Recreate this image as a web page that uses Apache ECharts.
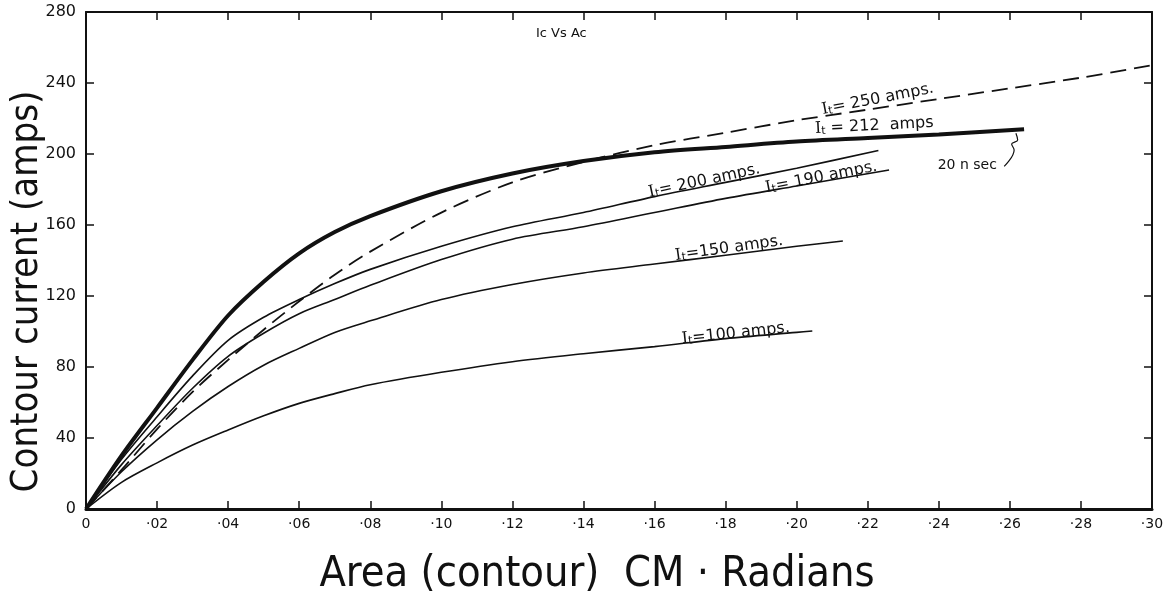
<!DOCTYPE html>
<html>
<head>
<meta charset="utf-8">
<script src="https://cdn.jsdelivr.net/npm/echarts@6/dist/echarts.min.js"></script>
<style>
html, body { margin: 0; padding: 0; background: #fff; }
#main { width: 1174px; height: 594px; }
</style>
</head>
<body>
<div id="main"></div>
<script>
// x ticks (area) and curve data [area, current]
const xTicks = [0, 0.02, 0.04, 0.06, 0.08, 0.10, 0.12, 0.14, 0.16, 0.18, 0.20, 0.22, 0.24, 0.26, 0.28, 0.30];
const yTicks = [0, 40, 80, 120, 160, 200, 240, 280];

const curve212 = [[0, 0], [0.01, 30], [0.02, 57], [0.03, 84], [0.04, 109], [0.05, 128], [0.06, 144], [0.07, 156], [0.08, 165], [0.10, 179], [0.12, 189], [0.14, 196], [0.16, 201], [0.18, 204], [0.20, 207], [0.22, 209], [0.24, 211], [0.264, 214]];
const curve250 = [[0, 0], [0.01, 22], [0.02, 45], [0.03, 66], [0.04, 84], [0.05, 101], [0.06, 117], [0.07, 132], [0.08, 145], [0.10, 167], [0.12, 184], [0.14, 195.5], [0.16, 205], [0.18, 212], [0.20, 219], [0.22, 225], [0.24, 231], [0.26, 237], [0.28, 243], [0.30, 250]];
const curve200 = [[0, 0], [0.01, 28], [0.02, 52], [0.03, 75], [0.04, 95], [0.05, 108], [0.06, 118], [0.07, 127], [0.08, 135], [0.10, 148], [0.12, 159], [0.14, 167], [0.16, 176], [0.18, 184], [0.20, 192], [0.223, 202]];
const curve190 = [[0, 0], [0.01, 25], [0.02, 47], [0.03, 68], [0.04, 86], [0.05, 99], [0.06, 110], [0.07, 118], [0.08, 126], [0.10, 140.5], [0.12, 152], [0.14, 159], [0.16, 167], [0.18, 175], [0.20, 182], [0.226, 191]];
const curve150 = [[0, 0], [0.01, 21], [0.02, 39], [0.03, 55], [0.04, 69], [0.05, 81], [0.06, 90.5], [0.07, 99.5], [0.08, 106], [0.10, 118], [0.12, 126.5], [0.14, 133], [0.16, 138], [0.18, 143], [0.20, 148], [0.213, 151]];
const curve100 = [[0, 0], [0.01, 15], [0.02, 26], [0.03, 36], [0.04, 44.5], [0.05, 52.5], [0.06, 59.5], [0.07, 65], [0.08, 70], [0.10, 77], [0.12, 83], [0.14, 87.5], [0.16, 91.5], [0.18, 96], [0.20, 99.5], [0.2044, 100.3]];
const leader = [[0.2617, 211.7], [0.2622, 207.9], [0.2605, 205.6], [0.2612, 202.3], [0.2584, 193]];

// curve labels: [text after "It", x, y, rotation]
const labels250 = ['= 250 amps.', 0.2227, 232, 11];
const labels212 = [' = 212  amps', 0.2218, 217, 3];
const labels200 = ['= 200 amps.', 0.1739, 186, 12];
const labels190 = ['= 190 amps.', 0.2068, 188, 11];
const labels150 = ['=150 amps.', 0.1809, 148, 8];
const labels100 = ['=100 amps.', 0.1828, 100, 6];

const font = "'DejaVu Sans', sans-serif";
const bigFont = "'Liberation Sans Narrow', 'DejaVu Sans Condensed', sans-serif";

function curveLabel(lab) {
    return {
        symbol: 'circle',
        symbolSize: 1,
        itemStyle: { color: 'rgba(0,0,0,0)' },
        label: {
            show: true,
            position: 'inside',
            rotate: lab[3],
            formatter: '{i|I}{b|t}{a|' + lab[0] + '}',
            rich: {
                i: { fontSize: 16, fontFamily: "'DejaVu Serif', serif", color: '#111', verticalAlign: 'bottom', lineHeight: 20 },
                a: { fontSize: 16, fontFamily: font, color: '#111', verticalAlign: 'bottom', lineHeight: 20 },
                b: { fontSize: 11, fontFamily: font, color: '#111', verticalAlign: 'bottom', lineHeight: 14 }
            }
        },
        data: [{ coord: [lab[1], lab[2]] }]
    };
}

function lineSeries(data, width, type, lab) {
    const s = {
        type: 'line',
        data: data,
        smooth: 0.3,
        showSymbol: false,
        silent: true,
        lineStyle: { color: '#111', width: width, type: type }
    };
    if (lab) s.markPoint = curveLabel(lab);
    return s;
}

const chart = echarts.init(document.getElementById('main'));

const axisCommon = {
    type: 'value',
    axisLine: { show: true, onZero: false, lineStyle: { color: '#111', width: 2 } },
    axisTick: { show: true, inside: true, length: 8, lineStyle: { color: '#111', width: 1.5 } },
    splitLine: { show: false }
};

option = {
    backgroundColor: '#fff',
    animation: false,
    title: {
        text: 'Ic Vs Ac',
        left: 531,
        top: 22,
        textStyle: { fontSize: 13, fontWeight: 'normal', fontFamily: font, color: '#111' }
    },
    grid: { left: 86, right: 22, top: 12, bottom: 85, containLabel: false, outerBoundsMode: 'none' },
    xAxis: [
        Object.assign({}, axisCommon, {
            position: 'bottom',
            min: 0, max: 0.30, interval: 0.02,
            axisLine: { show: true, onZero: false, lineStyle: { color: '#111', width: 3 } },
            axisLabel: {
                margin: 8,
                fontSize: 14,
                fontFamily: font,
                color: '#111',
                formatter: function (v) {
                    const i = Math.round(v * 50);
                    if (i === 0) return '0';
                    return '·' + String(xTicks[i].toFixed(2)).slice(2);
                }
            },
            name: 'Area (contour)  CM · Radians',
            nameLocation: 'middle',
            nameGap: 44,
            nameMoveOverlap: false,
            nameTextStyle: { fontSize: 43, fontFamily: bigFont, color: '#111', padding: [0, 44, 0, 0] }
        }),
        Object.assign({}, axisCommon, {
            position: 'top',
            min: 0, max: 0.30, interval: 0.02,
            axisLabel: { show: false }
        })
    ],
    yAxis: [
        Object.assign({}, axisCommon, {
            position: 'left',
            min: 0, max: 280, interval: 40,
            axisLabel: {
                margin: 10,
                fontSize: 16,
                fontFamily: font,
                color: '#111',
                formatter: function (v) { return yTicks[Math.round(v / 40)]; }
            },
            name: 'Contour current (amps)',
            nameLocation: 'middle',
            nameGap: 40,
            nameMoveOverlap: false,
            nameTextStyle: { fontSize: 38, fontFamily: bigFont, color: '#111', padding: [0, 62, 0, 0] }
        }),
        Object.assign({}, axisCommon, {
            position: 'right',
            min: 0, max: 280, interval: 40,
            axisLabel: { show: false }
        })
    ],
    series: [
        lineSeries(curve100, 1.6, 'solid', labels100),
        lineSeries(curve150, 1.6, 'solid', labels150),
        lineSeries(curve190, 1.6, 'solid', labels190),
        lineSeries(curve200, 1.6, 'solid', labels200),
        lineSeries(curve250, 1.8, [16, 8], labels250),
        lineSeries(curve212, 4, 'solid', labels212),
        {
            type: 'line',
            data: leader,
            smooth: 0.4,
            showSymbol: false,
            silent: true,
            lineStyle: { color: '#111', width: 1.2 },
            markPoint: {
                symbol: 'circle',
                symbolSize: 1,
                itemStyle: { color: 'rgba(0,0,0,0)' },
                label: { show: true, position: 'inside', formatter: '20 n sec', fontSize: 14, fontFamily: font, color: '#111' },
                data: [{ coord: [0.248, 193.5] }]
            }
        }
    ]
};

chart.setOption(option);
</script>
</body>
</html>
